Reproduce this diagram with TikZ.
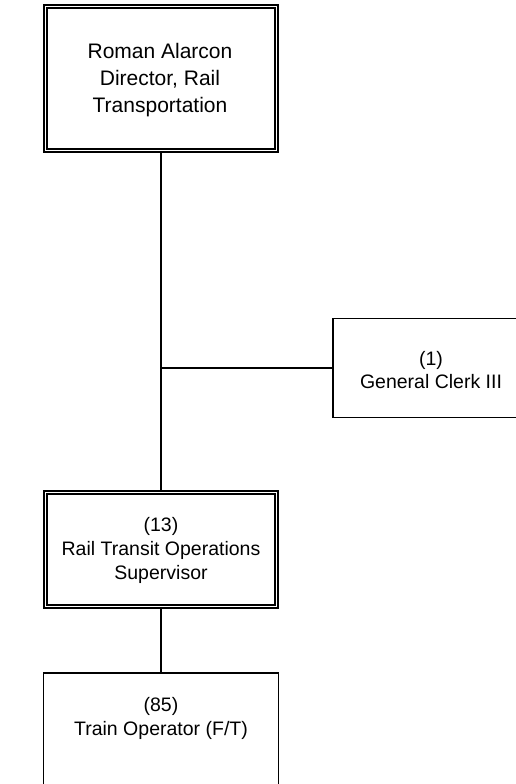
\documentclass[tikz,border=0pt]{standalone}
\usepackage{fontspec}
\setmainfont{Liberation Sans}
\begin{document}
\begin{tikzpicture}[x=1pt,y=-1pt,
  lbl/.style={align=center, font=\fontsize{19.5}{24}\selectfont, inner sep=0pt},
  biglbl/.style={align=center, font=\fontsize{21}{27}\selectfont, inner sep=0pt},
  sbox/.style={draw, line width=1.6pt, inner sep=0pt},
  dbox/.style={draw, line width=2.2pt, inner sep=0pt},
  inner/.style={line width=1.3pt},
  conn/.style={line width=1.6pt}]
\useasboundingbox (0,0) rectangle (516,784);
\begin{scope}
\clip (0,0) rectangle (516,784);
% top box
\node[dbox, minimum width=234pt, minimum height=147pt] (top) at (161,78.5) {};
\draw[inner] ([shift={(4,4)}]top.north west) rectangle ([shift={(-4,-4)}]top.south east);
\node[biglbl] (toplbl) at (160,80) {Roman Alarcon\\Director, Rail\\Transportation};
% clerk box
\node[sbox, minimum width=200pt, minimum height=99pt, anchor=west] (clerk) at (332,368) {};
\node[lbl, font=\fontsize{19.5}{23}\selectfont] (clerklbl) at (431,370) {(1)\\General Clerk III};
% supervisor box
\node[dbox, minimum width=234pt, minimum height=117pt] (sup) at (161,549.5) {};
\draw[inner] ([shift={(4,4)}]sup.north west) rectangle ([shift={(-4,-4)}]sup.south east);
\node[lbl] (suplbl) at (161,550) {(13)\\Rail Transit Operations\\Supervisor};
% train box
\node[sbox, minimum width=235pt, minimum height=130pt, anchor=north] (train) at (161,672) {};
\node[lbl] (trainlbl) at (161,718) {(85)\\Train Operator (F/T)};
% connectors
\draw[conn] (top.south) -- (sup.north);
\coordinate (br) at (top.south |- clerk.west);
\draw[conn] (br) -- (clerk.west);
\draw[conn] (sup.south) -- (train.north);
\end{scope}
\end{tikzpicture}
\end{document}
